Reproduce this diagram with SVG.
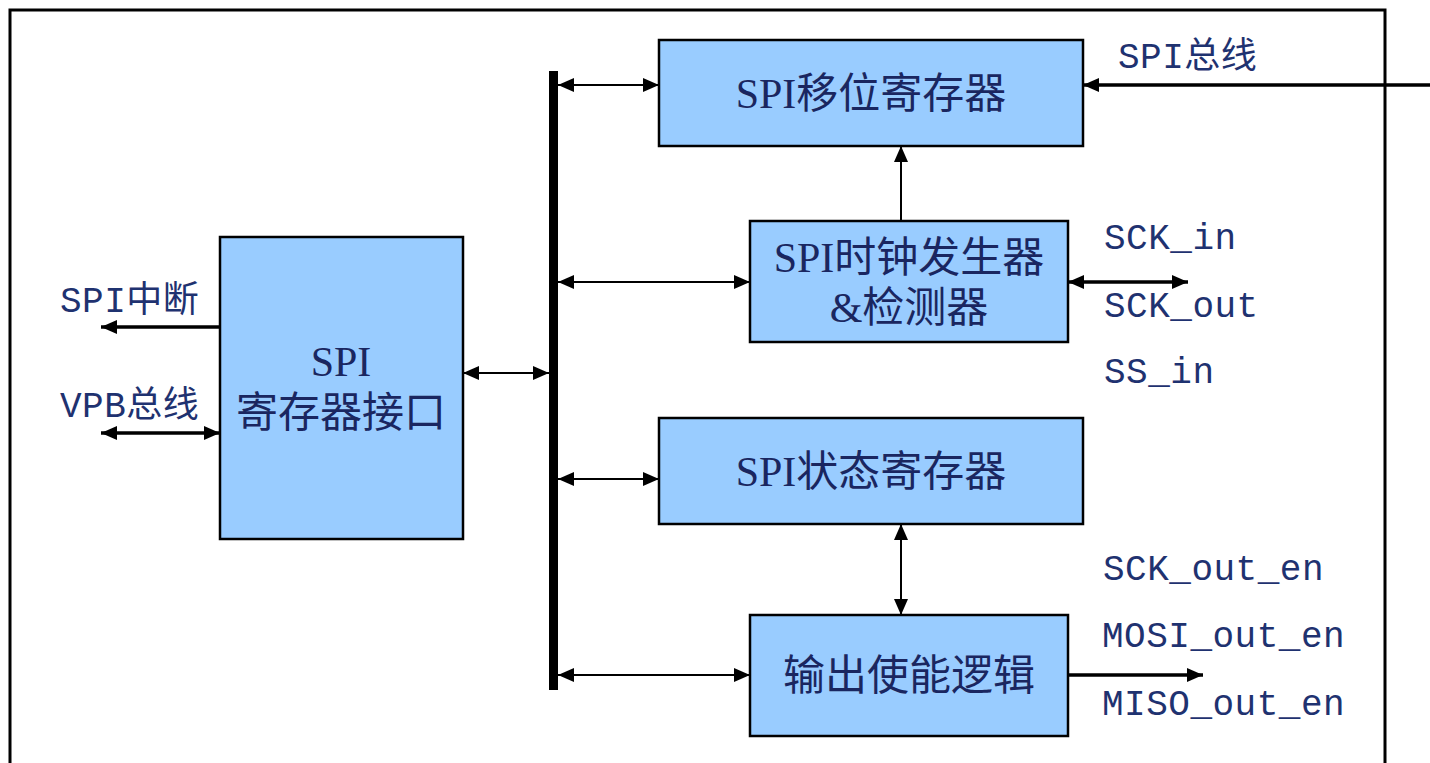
<svg xmlns="http://www.w3.org/2000/svg" width="1430" height="763" viewBox="0 0 1430 763">
<style>
.box{fill:#99CCFF;stroke:#000;stroke-width:2.5}
.bt{font-family:"Liberation Serif","Noto Sans CJK SC",serif;font-size:42px;fill:#1A2660;text-anchor:middle}
.lb{font-family:"Liberation Mono","Noto Sans CJK SC",monospace;font-size:36px;fill:#1F3270;letter-spacing:0.5px}
.thin{stroke:#000;stroke-width:2;fill:none}
.thick{stroke:#000;stroke-width:3.5;fill:none}
</style>
<defs>
<marker id="a" markerUnits="userSpaceOnUse" viewBox="0 0 16 14" refX="16" refY="7" markerWidth="16" markerHeight="14" orient="auto-start-reverse"><path d="M0,0L16,7L0,14z" fill="#000"/></marker>
<marker id="b" markerUnits="userSpaceOnUse" viewBox="0 0 16 14" refX="16" refY="7" markerWidth="16" markerHeight="14" orient="auto-start-reverse"><path d="M0,0L16,7L0,14z" fill="#000"/></marker>
</defs>
<rect x="0" y="0" width="1430" height="763" fill="#fff"/>
<rect x="10" y="10" width="1375" height="800" fill="none" stroke="#000" stroke-width="3"/>
<g id="connectors">
<rect x="549" y="71" width="9" height="619" fill="#000"/>
<line class="thin" x1="558" y1="85" x2="659" y2="85" marker-start="url(#a)" marker-end="url(#a)"/>
<line class="thin" x1="558" y1="282" x2="750" y2="282" marker-start="url(#a)" marker-end="url(#a)"/>
<line class="thin" x1="558" y1="479" x2="659" y2="479" marker-start="url(#a)" marker-end="url(#a)"/>
<line class="thin" x1="558" y1="675" x2="750" y2="675" marker-start="url(#a)" marker-end="url(#a)"/>
<line class="thin" x1="463" y1="373" x2="549" y2="373" marker-start="url(#a)" marker-end="url(#a)"/>
<line class="thick" x1="220" y1="327" x2="101" y2="327" marker-end="url(#b)"/>
<line class="thick" x1="101" y1="433" x2="220" y2="433" marker-start="url(#b)" marker-end="url(#b)"/>
<line class="thick" x1="1430" y1="85" x2="1083" y2="85" marker-end="url(#b)"/>
<line class="thin" x1="901" y1="221" x2="901" y2="146" marker-end="url(#a)"/>
<line class="thin" x1="901" y1="524" x2="901" y2="615" marker-start="url(#a)" marker-end="url(#a)"/>
<line class="thick" x1="1068" y1="282" x2="1188" y2="282" marker-start="url(#b)" marker-end="url(#b)"/>
<line class="thick" x1="1068" y1="675" x2="1203" y2="675" marker-end="url(#b)"/>
</g>
<g id="shift">
<rect class="box" x="659" y="40" width="424" height="106"/>
<text class="bt" x="871" y="108">SPI移位寄存器</text>
</g>
<g id="clock">
<rect class="box" x="750" y="221" width="318" height="121"/>
<text class="bt" x="909" y="272">SPI时钟发生器</text>
<text class="bt" x="909" y="322">&amp;检测器</text>
</g>
<g id="regif">
<rect class="box" x="220" y="237" width="243" height="302"/>
<text class="bt" x="341" y="376">SPI</text>
<text class="bt" x="341" y="427">寄存器接口</text>
</g>
<g id="status">
<rect class="box" x="659" y="418" width="424" height="106"/>
<text class="bt" x="871" y="486">SPI状态寄存器</text>
</g>
<g id="outen">
<rect class="box" x="750" y="615" width="318" height="121"/>
<text class="bt" x="909" y="690">输出使能逻辑</text>
</g>
<g id="labels">
<text class="lb" x="1118" y="68">SPI总线</text>
<text class="lb" x="1104" y="249">SCK_in</text>
<text class="lb" x="1104" y="317">SCK_out</text>
<text class="lb" x="1104" y="383">SS_in</text>
<text class="lb" x="1103" y="580">SCK_out_en</text>
<text class="lb" x="1102" y="647">MOSI_out_en</text>
<text class="lb" x="1102" y="715">MISO_out_en</text>
<text class="lb" x="60" y="312">SPI中断</text>
<text class="lb" x="60" y="417">VPB总线</text>
</g>
</svg>
